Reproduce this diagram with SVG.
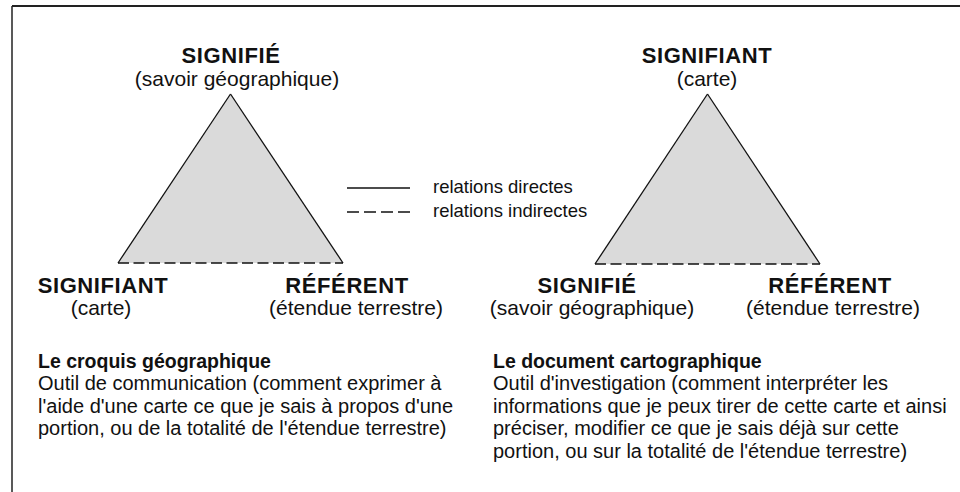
<svg xmlns="http://www.w3.org/2000/svg" width="960" height="492" viewBox="0 0 960 492">
<style>
.t{font-family:"Liberation Sans",Arial,Helvetica,sans-serif;font-weight:bold;font-size:22px;letter-spacing:0.6px;text-anchor:middle;fill:#111}
.s{font-family:"Liberation Sans",Arial,Helvetica,sans-serif;font-size:21px;text-anchor:middle;fill:#111}
.h{font-family:"Liberation Sans",Arial,Helvetica,sans-serif;font-weight:bold;font-size:19.5px;fill:#111}
.b{font-family:"Liberation Sans",Arial,Helvetica,sans-serif;font-size:20px;fill:#111}
.l{font-family:"Liberation Sans",Arial,Helvetica,sans-serif;font-size:18.5px;fill:#111}
.side{stroke:#111;stroke-width:1.3;fill:none}
.dash{stroke:#111;stroke-width:1.5;stroke-dasharray:11 4.5;fill:none}
.fill{fill:#dadada;stroke:none}
</style>
<rect x="0" y="0" width="960" height="492" fill="#fff"/>
<g id="frame">
<line x1="12" y1="6" x2="960" y2="6" stroke="#222" stroke-width="2"/>
<line x1="12" y1="6" x2="12" y2="492" stroke="#222" stroke-width="1.5"/>
</g>
<g id="triangle-fills">
<polygon class="fill" points="230.5,94 118,263 343,263"/>
<polygon class="fill" points="707.5,94 595,264 820,264"/>
</g>
<g id="connectors">
<line class="side" x1="230.5" y1="94" x2="118" y2="263"/>
<line class="side" x1="230.5" y1="94" x2="343" y2="263"/>
<line class="dash" x1="118" y1="263" x2="343" y2="263"/>
<line class="side" x1="707.5" y1="94" x2="595" y2="264"/>
<line class="side" x1="707.5" y1="94" x2="820" y2="264"/>
<line class="dash" x1="595" y1="264" x2="820" y2="264"/>
</g>
<g id="left-top">
<text class="t" x="231" y="63">SIGNIFIÉ</text>
<text class="s" x="237" y="86">(savoir géographique)</text>
</g>
<g id="left-bottom-left">
<text class="t" x="103" y="293">SIGNIFIANT</text>
<text class="s" x="101" y="315">(carte)</text>
</g>
<g id="left-bottom-right">
<text class="t" x="347" y="293">RÉFÉRENT</text>
<text class="s" x="356" y="315">(étendue terrestre)</text>
</g>
<g id="right-top">
<text class="t" x="707" y="63">SIGNIFIANT</text>
<text class="s" x="707" y="86">(carte)</text>
</g>
<g id="right-bottom-left">
<text class="t" x="587" y="293">SIGNIFIÉ</text>
<text class="s" x="592" y="315">(savoir géographique)</text>
</g>
<g id="right-bottom-right">
<text class="t" x="830" y="293">RÉFÉRENT</text>
<text class="s" x="833" y="315">(étendue terrestre)</text>
</g>
<g id="legend">
<line x1="347" y1="188" x2="410" y2="188" stroke="#111" stroke-width="1.3"/>
<line x1="347" y1="212" x2="410" y2="212" stroke="#111" stroke-width="1.3" stroke-dasharray="12 5"/>
<text class="l" x="433" y="193">relations directes</text>
<text class="l" x="433" y="217">relations indirectes</text>
</g>
<g id="left-caption">
<text class="h" x="38" y="368">Le croquis géographique</text>
<text class="b" x="38" y="390">Outil de communication (comment exprimer à</text>
<text class="b" x="38" y="412.5">l'aide d'une carte ce que je sais à propos d'une</text>
<text class="b" x="38" y="435">portion, ou de la totalité de l'étendue terrestre)</text>
</g>
<g id="right-caption">
<text class="h" x="493" y="368">Le document cartographique</text>
<text class="b" x="493" y="390">Outil d'investigation (comment interpréter les</text>
<text class="b" x="493" y="412.5">informations que je peux tirer de cette carte et ainsi</text>
<text class="b" x="493" y="435">préciser, modifier ce que je sais déjà sur cette</text>
<text class="b" x="493" y="457.5">portion, ou sur la totalité de l'étendue terrestre)</text>
</g>
</svg>
